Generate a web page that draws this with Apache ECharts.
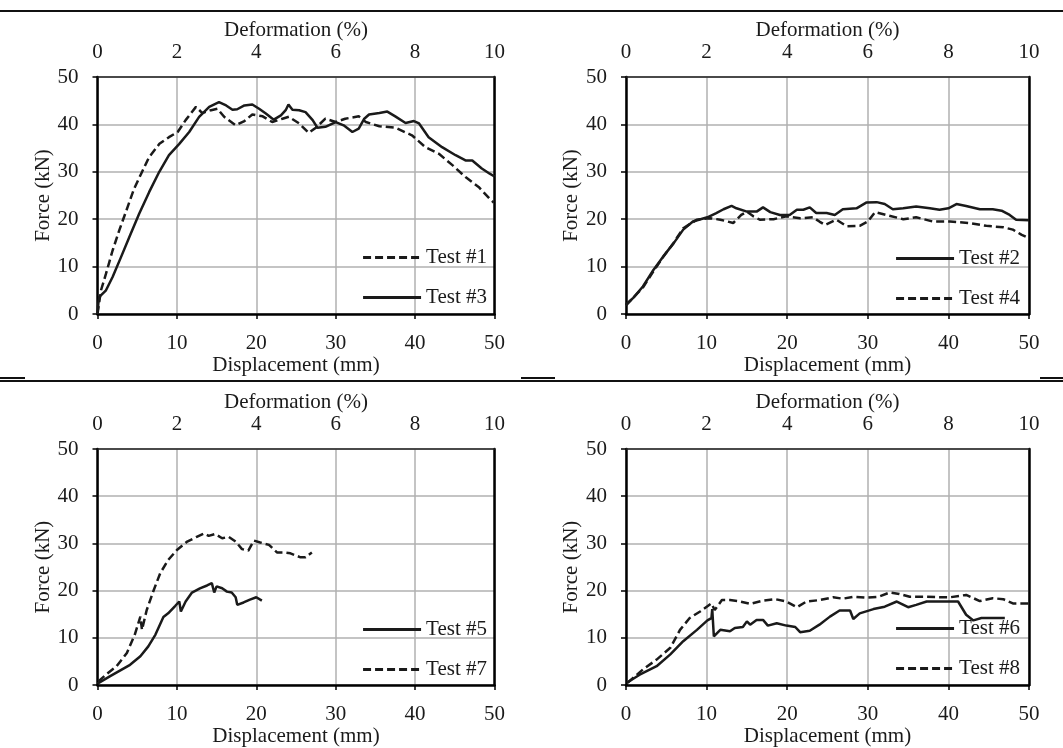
<!DOCTYPE html>
<html>
<head>
<meta charset="utf-8">
<script src="https://cdn.jsdelivr.net/npm/echarts@6/dist/echarts.min.js"></script>
<style>
html,body{margin:0;padding:0;background:#fff;}
#chart{width:1063px;height:748px;}
</style>
</head>
<body>
<div id="chart"></div>
<script>
// ---- Data (Displacement mm, Force kN) ----
const test1 = [[0,0],[0.44,5],[1.07,8.5],[1.9,13.4],[2.75,17.7],[3.8,22.6],[4.6,26.4],[5.5,29.6],[6.5,33.1],[7.8,35.9],[9.0,37.3],[10.1,38.4],[11.1,40.9],[12.4,43.7],[13.2,42.4],[14.3,43],[15.1,43.3],[15.95,41.6],[17.4,39.8],[18.5,40.7],[19.5,42.1],[20.8,41.7],[22,40.5],[23.3,41.2],[24.1,41.6],[25.4,40.2],[26.6,38.2],[27.5,39.3],[28.7,41.2],[30,40.5],[31.2,41.2],[32.9,41.7],[33.8,40.5],[35.5,39.6],[37.5,39.3],[39.6,37.7],[41.3,35.2],[43,33.8],[44.7,31.4],[46.35,28.9],[48,26.8],[49.4,24.3],[49.9,23.5]];
const test3 = [[0,0],[0.1,2.2],[0.23,3.6],[1.07,5],[1.9,7.8],[2.96,12],[4.0,16.2],[5.26,21.2],[6.5,25.7],[7.78,30],[9.0,33.5],[10.3,35.9],[11.55,38.4],[12.8,41.6],[14.07,43.7],[15.3,44.7],[16.2,44],[17,43.1],[17.6,43.2],[18.5,44],[19.5,44.2],[20.35,43.3],[21.2,42.3],[22.2,41],[23.1,41.9],[23.7,43],[24.05,44.2],[24.55,43.1],[25.4,43],[26.2,42.6],[27.1,40.9],[27.7,39.3],[28.7,39.5],[30,40.5],[31,39.8],[32.1,38.4],[32.9,39.1],[33.6,41.2],[34.2,42.1],[35.5,42.4],[36.5,42.7],[37.5,41.7],[38.8,40.3],[39.85,40.7],[40.5,40.2],[41.7,37.3],[43.4,35.2],[45.1,33.5],[46.35,32.4],[47.2,32.4],[48.4,30.7],[49.4,29.6],[50,29]];
const test2 = [[0,2],[0.9,3.4],[2.1,5.8],[3.4,9.3],[4.6,12.1],[5.9,14.9],[7.1,17.8],[8.3,19.5],[10.1,20.4],[11.2,21.3],[12.1,22.1],[13.1,22.8],[13.7,22.3],[15,21.6],[16.2,21.6],[17,22.5],[17.9,21.5],[19.1,20.9],[20.3,20.9],[21.2,22],[22,22],[22.8,22.5],[23.6,21.3],[24.9,21.3],[25.9,20.9],[26.9,22.1],[28.6,22.3],[29.8,23.5],[31.1,23.6],[32.1,23.2],[33.1,22.1],[34.4,22.3],[36,22.7],[37.7,22.3],[38.9,22],[40,22.3],[41,23.2],[42.2,22.8],[43.9,22.1],[45.5,22.1],[46.6,21.8],[47.6,20.9],[48.4,19.9],[50,19.8]];
const test4 = [[0,1.8],[0.5,2.7],[2.1,5.6],[3.4,9.0],[4.6,12],[5.9,15],[7.1,18.1],[8.8,19.9],[10.4,20.2],[11.7,19.9],[13.3,19.2],[14.3,20.9],[15,21.6],[15.8,20.6],[16.6,19.9],[18.3,20],[19.9,20.6],[21.6,20.2],[23.2,20.4],[24,19.5],[24.7,18.8],[26.1,19.9],[27.4,18.5],[29,18.6],[30,19.5],[30.9,21.5],[32.3,20.9],[34.4,20],[36,20.4],[38.1,19.5],[40.2,19.5],[42.6,19.2],[44.7,18.6],[46.8,18.3],[48,17.8],[49.1,16.7],[50,16]];
const test5 = [[0,0.3],[1.6,1.9],[4.1,4.3],[5.4,6.1],[6.4,8.2],[7.3,10.7],[8.3,14.4],[8.9,15.2],[9.8,16.8],[10.3,17.7],[10.5,15.6],[11.1,17.7],[11.9,19.6],[12.9,20.5],[13.8,21.1],[14.4,21.6],[14.7,19.6],[15,20.9],[15.7,20.5],[16.3,19.8],[16.9,19.6],[17.4,18.6],[17.6,17],[18.4,17.5],[19.2,18.1],[20,18.6],[20.7,17.9]];
const test7 = [[0.1,0.8],[1.2,2.4],[2.4,4],[3.7,6.8],[4.7,10.7],[5.4,14.5],[5.6,11.7],[6.2,15.9],[7.1,20.2],[7.9,23.7],[8.9,26.5],[10,28.6],[11.3,30.4],[12.5,31.4],[13.4,32.1],[14,31.6],[14.8,32],[15.7,31.1],[16.5,31.4],[17.4,30.4],[18.2,28.8],[19,28.5],[19.7,30.6],[20.5,30.2],[21.6,29.7],[22.6,28.1],[23.4,28.1],[24.3,27.9],[25.5,27.1],[26.2,27.1],[27,28.1]];
const test6 = [[0.1,0.5],[1.7,2.2],[3.8,4],[5.5,6.5],[7.1,9.3],[8.8,11.7],[10.1,13.7],[10.6,14.2],[10.7,16.1],[10.9,10.3],[11.7,11.7],[12.9,11.4],[13.5,12.1],[14.5,12.3],[15,13.5],[15.4,12.8],[16.2,13.8],[17,13.8],[17.6,12.6],[18.7,13.1],[19.9,12.6],[21,12.3],[21.6,11.2],[22.8,11.5],[24,12.8],[25.3,14.5],[26.5,15.8],[27.8,15.8],[28.2,14],[29,15.2],[30.7,16.1],[32.1,16.6],[33.6,17.7],[35,16.5],[36,17],[37.3,17.7],[39.3,17.7],[41.2,17.7],[42.2,14.9],[43.1,13.7],[44.1,14.2],[45.5,14.2],[47,14.2]];
const test8 = [[0.2,0.5],[2.1,3.3],[3.8,5.4],[5.5,7.9],[6.7,11.7],[7.9,14.2],[9.2,15.6],[10.6,17.3],[11,15.9],[11.9,18],[12.9,18],[13.9,17.8],[15.4,17.2],[17,17.9],[18.5,18.2],[19.9,17.7],[21.2,16.5],[22.4,17.7],[24,18],[25.7,18.6],[26.9,18.3],[28.2,18.7],[29.8,18.5],[31.3,18.7],[32.7,19.6],[33.9,19.3],[35.2,18.7],[37.3,18.7],[38.9,18.6],[40.2,18.6],[42.2,19.1],[43.9,17.8],[45.5,18.4],[46.8,18.2],[48,17.3],[49.1,17.3],[50,17.3]];

// Axis ranges / tick steps
const dispAxis = {min: 0, max: 50, step: 10};
const deformAxis = {min: 0, max: 10, step: 2};
const forceAxis = {min: 0, max: 50, step: 10};

// Panels: [series in legend order]
const panels = [
  [{name: 'Test #1', data: test1, dash: true}, {name: 'Test #3', data: test3, dash: false}],
  [{name: 'Test #2', data: test2, dash: false}, {name: 'Test #4', data: test4, dash: true}],
  [{name: 'Test #5', data: test5, dash: false}, {name: 'Test #7', data: test7, dash: true}],
  [{name: 'Test #6', data: test6, dash: false}, {name: 'Test #8', data: test8, dash: true}]
];

const FONT = "'Liberation Serif','Times New Roman',serif";
const FS = 21;
const TXT = '#1a1a1a';

const gridBoxes = [
  {left: 97.5, top: 77, width: 397, height: 237},
  {left: 626, top: 77, width: 403, height: 237},
  {left: 97.5, top: 449, width: 397, height: 237},
  {left: 626, top: 449, width: 403, height: 237}
];
const legendPos = [
  {right: 576, top: 247},
  {right: 43, top: 248},
  {right: 576, top: 619},
  {right: 43, top: 618}
];

const grid = [], xAxis = [], yAxis = [], series = [], legend = [];
gridBoxes.forEach((g, i) => {
  grid.push(Object.assign({show: false, containLabel: false}, g));
  xAxis.push({
    type: 'value', gridIndex: i, position: 'bottom',
    min: dispAxis.min, max: dispAxis.max, interval: dispAxis.step,
    name: 'Displacement (mm)', nameLocation: 'middle', nameGap: 33,
    nameTextStyle: {fontFamily: FONT, fontSize: FS, color: TXT},
    axisLine: {show: true, onZero: false, lineStyle: {color: '#000', width: 2.5}},
    axisTick: {show: true, length: 5, lineStyle: {color: '#000', width: 1.5}},
    axisLabel: {fontFamily: FONT, fontSize: FS, color: TXT, margin: 19},
    splitLine: {show: true, lineStyle: {color: '#b0b0b0', width: 1.5}}
  });
  xAxis.push({
    type: 'value', gridIndex: i, position: 'top',
    min: deformAxis.min, max: deformAxis.max, interval: deformAxis.step,
    name: 'Deformation (%)', nameLocation: 'middle', nameGap: 30,
    nameTextStyle: {fontFamily: FONT, fontSize: FS, color: TXT},
    axisLine: {show: true, onZero: false, lineStyle: {color: '#222', width: 1.5}},
    axisTick: {show: false},
    axisLabel: {fontFamily: FONT, fontSize: FS, color: TXT, margin: 14},
    splitLine: {show: false}
  });
  yAxis.push({
    type: 'value', gridIndex: i, position: 'left',
    min: forceAxis.min, max: forceAxis.max, interval: forceAxis.step,
    name: 'Force (kN)', nameLocation: 'middle', nameGap: 38, nameRotate: 90,
    nameTextStyle: {fontFamily: FONT, fontSize: FS, color: TXT},
    axisLine: {show: true, onZero: false, lineStyle: {color: '#000', width: 2.5}},
    axisTick: {show: true, length: 5, lineStyle: {color: '#000', width: 1.5}},
    axisLabel: {fontFamily: FONT, fontSize: FS, color: TXT, margin: 19},
    splitLine: {show: true, lineStyle: {color: '#b0b0b0', width: 1.5}}
  });
  yAxis.push({
    type: 'value', gridIndex: i, position: 'right',
    min: forceAxis.min, max: forceAxis.max, interval: forceAxis.step,
    axisLine: {show: true, onZero: false, lineStyle: {color: '#000', width: 2.5}},
    axisTick: {show: false}, axisLabel: {show: false}, splitLine: {show: false}
  });
  panels[i].forEach(s => {
    series.push({
      name: s.name, type: 'line', xAxisIndex: 2 * i, yAxisIndex: 2 * i,
      data: s.data, symbol: 'none', smooth: false, z: 5,
      lineStyle: {color: '#1a1a1a', width: 2.5, type: s.dash ? [8, 4] : 'solid'},
      itemStyle: {color: '#1a1a1a'}
    });
  });
  legend.push(Object.assign({
    data: panels[i].map(s => s.name), orient: 'vertical', padding: 0,
    itemWidth: 58, itemHeight: 20, itemGap: 19, selectedMode: false,
    itemStyle: {opacity: 0, color: 'rgba(0,0,0,0)', borderWidth: 0},
    lineStyle: {width: 3, color: '#1a1a1a'},
    textStyle: {fontFamily: FONT, fontSize: FS, color: TXT}
  }, legendPos[i]));
});

const chart = echarts.init(document.getElementById('chart'), null, {renderer: 'canvas'});
chart.setOption({
  animation: false,
  backgroundColor: '#fff',
  grid, xAxis, yAxis, series, legend,
  graphic: [
    {type: 'line', shape: {x1: 0, y1: 11, x2: 1063, y2: 11}, style: {stroke: '#111', lineWidth: 2}},
    {type: 'line', shape: {x1: 0, y1: 381, x2: 1063, y2: 381}, style: {stroke: '#111', lineWidth: 2}},
    {type: 'line', shape: {x1: 0, y1: 378, x2: 25, y2: 378}, style: {stroke: '#111', lineWidth: 2}},
    {type: 'line', shape: {x1: 521, y1: 378, x2: 555, y2: 378}, style: {stroke: '#111', lineWidth: 2}},
    {type: 'line', shape: {x1: 1040, y1: 378, x2: 1063, y2: 378}, style: {stroke: '#111', lineWidth: 2}}
  ]
});
</script>
</body>
</html>
